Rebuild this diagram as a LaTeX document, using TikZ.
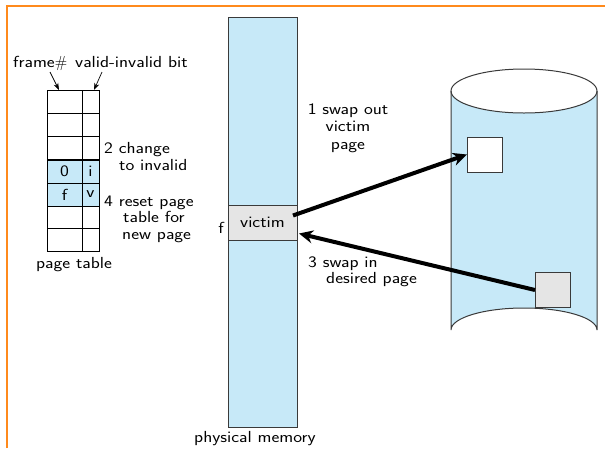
\documentclass[tikz,border=0pt]{standalone}
\usepackage{fontspec}
\setsansfont{Latin Modern Sans}[FakeStretch=1.17]
\usetikzlibrary{arrows.meta}
\definecolor{memblue}{HTML}{C7E9F8}
\definecolor{boxgray}{HTML}{E5E5E5}
\definecolor{frameorange}{HTML}{FF8A1C}
\definecolor{edgegray}{HTML}{3A3A3A}
\tikzset{
  lbl/.style={font=\fontsize{16}{17.5}\selectfont\sffamily, inner sep=0pt},
  cell/.style={draw=black, line width=0.9pt, inner sep=0pt, outer sep=0pt, font=\fontsize{16}{17.5}\selectfont\sffamily},
  mem/.style={draw=edgegray, line width=1pt, fill=memblue, inner sep=0pt, outer sep=0pt},
  slot/.style={draw=edgegray, line width=1pt, inner sep=0pt, outer sep=0pt, minimum width=35pt, minimum height=35pt},
  swap/.style={line width=4pt, -{Stealth[length=14pt,width=13pt]}},
  thin/.style={line width=0.7pt, -{Stealth[length=7pt,width=5pt]}},
}
\begin{document}
\begin{tikzpicture}[x=1pt,y=-1pt]
\useasboundingbox (0,0) rectangle (605,448);
% slide border
\draw[frameorange, line width=1.5pt] (7,448) -- (7,6) -- (605,6);

% page table: 7 rows, frame number column and valid bit column
\foreach \r in {1,...,7}{
  \pgfmathsetmacro{\yc}{90+23*(\r-1)+11.5}
  \node[cell, minimum width=35pt, minimum height=23pt] (pf\r) at (64.5,\yc) {};
  \node[cell, minimum width=17pt, minimum height=23pt] (pv\r) at (90.5,\yc) {};
}
\node[cell, fill=memblue, minimum width=35pt, minimum height=23pt] (pf4) at (64.5,171.5) {0};
\node[cell, fill=memblue, minimum width=17pt, minimum height=23pt] (pv4) at (90.5,171.5) {i};
\node[cell, fill=memblue, minimum width=35pt, minimum height=23pt] (pf5) at (64.5,194.5) {f};
\node[cell, fill=memblue, minimum width=17pt, minimum height=23pt] (pv5) at (90.5,194.5) {v};

\node[lbl, anchor=base west] (fnum) at (13,67) {frame$\#$};
\node[lbl, anchor=base west] (vbit) at (75,67) {valid-invalid bit};
\coordinate (fnumtip) at (59,90);
\coordinate (vbittip) at (94,90);
\draw[thin] (50,72) -- (fnumtip);
\draw[thin] (102,72) -- (vbittip);

\node[lbl, anchor=base west] (s2a) at (104,153) {2 change};
\node[lbl, anchor=base west] (s2b) at (119,170) {to invalid};
\node[lbl, anchor=base west] (s4a) at (104,206) {4 reset page};
\node[lbl, anchor=base west] (s4b) at (123,222) {table for};
\node[lbl, anchor=base west] (s4c) at (122,239) {new page};
\node[lbl, anchor=base] (ptl) at (74,268) {page table};

% physical memory column with the victim frame
\node[mem, minimum width=69pt, minimum height=410pt] (pm) at (262.5,222) {};
\node[mem, fill=boxgray, minimum width=69pt, minimum height=35pt, font=\fontsize{16}{17.5}\selectfont\sffamily] (victim) at (262.5,222.5) {victim};
\node[lbl, anchor=base] (fl) at (221,233) {f};
\node[lbl, anchor=base] (pml) at (255,442) {physical memory};

% backing store drawn as a cylinder
\fill[memblue] (451,91) -- (451,330) arc[start angle=180, end angle=360, x radius=73, y radius=22]
  -- (597,91) arc[start angle=0, end angle=180, x radius=73, y radius=22] -- cycle;
\draw[edgegray, line width=1pt] (451,91) -- (451,330) arc[start angle=180, end angle=360, x radius=73, y radius=22] -- (597,91);
\draw[edgegray, line width=1pt] (524,91) ellipse[x radius=73, y radius=22];
\node[slot, fill=white] (outslot) at (484.5,154.5) {};
\node[slot, fill=boxgray] (inslot) at (552.5,290) {};

% swap traffic
\draw[swap] ([shift={(-4,-7)}]victim.east) -- (outslot.west);
\draw[swap] (inslot.west) -- ([shift={(2,11)}]victim.east);

\node[lbl, align=center, anchor=base] (s1) at (348,149) {1 swap out\\victim\\page};
\node[lbl, anchor=base west] (s3a) at (308,267) {3 swap in};
\node[lbl, anchor=base west] (s3b) at (326,283) {desired page};
\end{tikzpicture}
\end{document}
